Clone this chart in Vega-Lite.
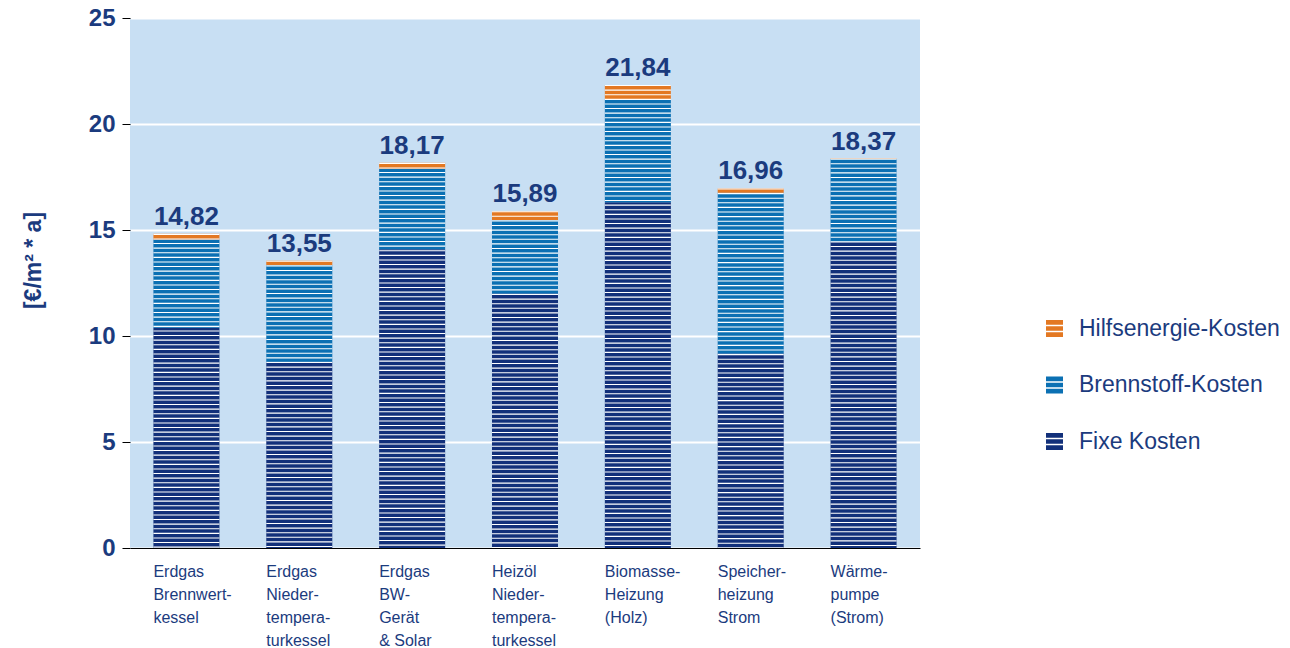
{
  "$schema": "https://vega.github.io/schema/vega-lite/v6.json",
  "autosize": "none",
  "width": 790,
  "height": 530,
  "padding": {"left": 130, "top": 18, "right": 370, "bottom": 100},
  "background": "white",
  "config": {
    "view": {"fill": "#C8DFF3", "stroke": null},
    "font": "Liberation Sans",
    "locale": {"number": {"decimal": ",", "thousands": ".", "grouping": [3], "currency": ["", " €"]}}
  },
  "datasets": {
    "kosten": [
      {"kat": "Erdgas|Brennwert-|kessel", "art": "Fixe Kosten", "ebene": 1, "wert": 10.39},
      {"kat": "Erdgas|Brennwert-|kessel", "art": "Brennstoff-Kosten", "ebene": 2, "wert": 4.16},
      {"kat": "Erdgas|Brennwert-|kessel", "art": "Hilfsenergie-Kosten", "ebene": 3, "wert": 0.27},
      {"kat": "Erdgas|Nieder-|tempera-|turkessel", "art": "Fixe Kosten", "ebene": 1, "wert": 8.79},
      {"kat": "Erdgas|Nieder-|tempera-|turkessel", "art": "Brennstoff-Kosten", "ebene": 2, "wert": 4.56},
      {"kat": "Erdgas|Nieder-|tempera-|turkessel", "art": "Hilfsenergie-Kosten", "ebene": 3, "wert": 0.20},
      {"kat": "Erdgas|BW-|Gerät|& Solar", "art": "Fixe Kosten", "ebene": 1, "wert": 14.09},
      {"kat": "Erdgas|BW-|Gerät|& Solar", "art": "Brennstoff-Kosten", "ebene": 2, "wert": 3.80},
      {"kat": "Erdgas|BW-|Gerät|& Solar", "art": "Hilfsenergie-Kosten", "ebene": 3, "wert": 0.28},
      {"kat": "Heizöl|Nieder-|tempera-|turkessel", "art": "Fixe Kosten", "ebene": 1, "wert": 12.01},
      {"kat": "Heizöl|Nieder-|tempera-|turkessel", "art": "Brennstoff-Kosten", "ebene": 2, "wert": 3.46},
      {"kat": "Heizöl|Nieder-|tempera-|turkessel", "art": "Hilfsenergie-Kosten", "ebene": 3, "wert": 0.42},
      {"kat": "Biomasse-|Heizung|(Holz)", "art": "Fixe Kosten", "ebene": 1, "wert": 16.31},
      {"kat": "Biomasse-|Heizung|(Holz)", "art": "Brennstoff-Kosten", "ebene": 2, "wert": 4.85},
      {"kat": "Biomasse-|Heizung|(Holz)", "art": "Hilfsenergie-Kosten", "ebene": 3, "wert": 0.68},
      {"kat": "Speicher-|heizung|Strom", "art": "Fixe Kosten", "ebene": 1, "wert": 9.18},
      {"kat": "Speicher-|heizung|Strom", "art": "Brennstoff-Kosten", "ebene": 2, "wert": 7.58},
      {"kat": "Speicher-|heizung|Strom", "art": "Hilfsenergie-Kosten", "ebene": 3, "wert": 0.20},
      {"kat": "Wärme-|pumpe|(Strom)", "art": "Fixe Kosten", "ebene": 1, "wert": 14.45},
      {"kat": "Wärme-|pumpe|(Strom)", "art": "Brennstoff-Kosten", "ebene": 2, "wert": 3.90},
      {"kat": "Wärme-|pumpe|(Strom)", "art": "Hilfsenergie-Kosten", "ebene": 3, "wert": 0.02}
    ],
    "summen": [
      {"kat": "Erdgas|Brennwert-|kessel", "summe": 14.82},
      {"kat": "Erdgas|Nieder-|tempera-|turkessel", "summe": 13.55},
      {"kat": "Erdgas|BW-|Gerät|& Solar", "summe": 18.17},
      {"kat": "Heizöl|Nieder-|tempera-|turkessel", "summe": 15.89},
      {"kat": "Biomasse-|Heizung|(Holz)", "summe": 21.84},
      {"kat": "Speicher-|heizung|Strom", "summe": 16.96},
      {"kat": "Wärme-|pumpe|(Strom)", "summe": 18.37}
    ]
  },
  "encoding": {
    "x": {
      "field": "kat", "type": "nominal", "sort": null, "title": null,
      "scale": {"paddingInner": 0.415, "paddingOuter": 0.2075},
      "axis": {
        "labelExpr": "split(datum.label, '|')",
        "labelAngle": 0, "labelAlign": "left", "labelOffset": -33,
        "labelBaseline": "top", "labelPadding": 15, "labelLineHeight": 23,
        "labelFont": "Liberation Sans", "labelFontSize": 16,
        "labelColor": "#1B3B7E", "ticks": false, "domainColor": "#000000", "domainWidth": 1,
        "labelOverlap": false, "labelBound": false, "labelLimit": 0
      }
    }
  },
  "layer": [
    {
      "data": {"name": "kosten"},
      "mark": {"type": "bar"},
      "encoding": {
        "y": {
          "field": "wert", "type": "quantitative", "stack": "zero",
          "scale": {"domain": [0, 25], "nice": false},
          "axis": {
            "values": [0, 5, 10, 15, 20, 25], "title": "[€/m² * a]",
            "titleFont": "Liberation Sans", "titleFontSize": 23, "titleFontWeight": "bold", "titleColor": "#1B3B7E",
            "titleX": -97, "titleY": 242, "titleAngle": -90, "titleAlign": "center", "titleBaseline": "middle",
            "labelFontSize": 24, "labelFontWeight": "bold", "labelColor": "#1B3B7E", "labelPadding": 7,
            "tickSize": 8, "tickColor": "#000000", "domain": false,
            "grid": true, "gridColor": "#FFFFFF", "gridWidth": 2
          }
        },
        "order": {"field": "ebene", "type": "quantitative", "sort": "ascending"},
        "color": {
          "field": "art", "type": "nominal",
          "scale": {
            "domain": ["Hilfsenergie-Kosten", "Brennstoff-Kosten", "Fixe Kosten"],
            "range": ["#E37822", "#0B70B3", "#12307A"]
          },
          "legend": {
            "title": null, "orient": "none", "legendX": 913, "legendY": 299,
            "symbolType": "M-1,-1H1V-0.45H-1Z M-1,-0.27H1V0.27H-1Z M-1,0.45H1V1H-1Z",
            "symbolSize": 289, "symbolStrokeWidth": 0, "symbolOpacity": 1,
            "labelFont": "Liberation Sans", "labelFontSize": 23, "labelColor": "#1B3B7E",
            "labelOffset": 13, "rowPadding": 32.5, "labelLimit": 0
          }
        }
      }
    },
    {
      "data": {"name": "summen"},
      "mark": {"type": "rule", "stroke": "#FFFFFF", "strokeWidth": 66, "strokeDash": [1.1, 3.5], "strokeCap": "butt"},
      "encoding": {
        "y": {"field": "summe", "type": "quantitative"},
        "y2": {"datum": 0}
      }
    },
    {
      "data": {"name": "summen"},
      "mark": {"type": "text", "fontSize": 26, "fontWeight": "bold", "color": "#1B3B7E", "baseline": "alphabetic", "dy": -9},
      "encoding": {
        "y": {"field": "summe", "type": "quantitative"},
        "text": {"field": "summe", "type": "quantitative", "format": ".2f"}
      }
    }
  ]
}
